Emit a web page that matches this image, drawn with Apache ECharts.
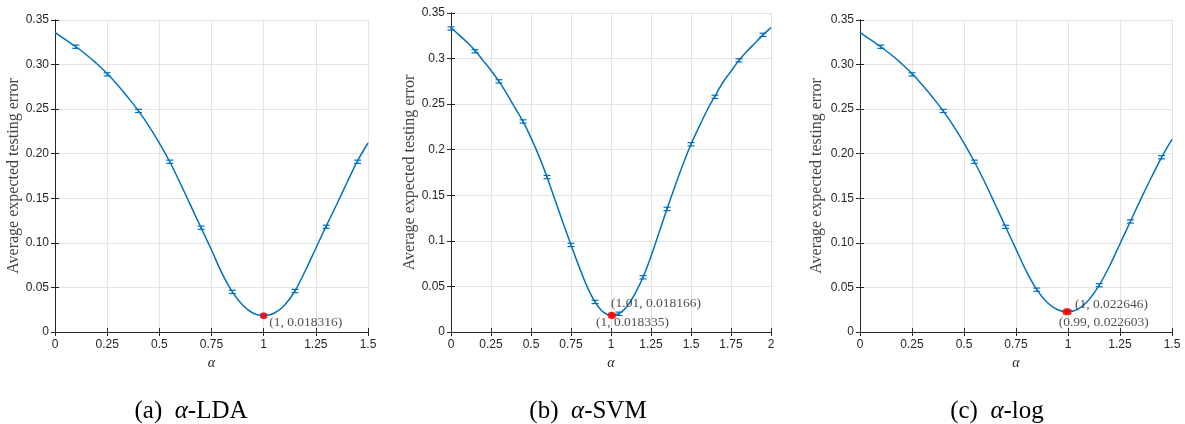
<!DOCTYPE html>
<html>
<head>
<meta charset="utf-8">
<script src="https://cdn.jsdelivr.net/npm/echarts@6/dist/echarts.min.js"></script>
<style>html,body{margin:0;padding:0;background:#fff;}#c{width:1185px;height:424px;}</style>
</head>
<body>
<div id="c"></div>
<script>
// ---------- DATA ----------
const alphaLDA = [0,0.05,0.1,0.15,0.2,0.25,0.3,0.35,0.4,0.45,0.5,0.55,0.6,0.65,0.7,0.75,0.8,0.85,0.9,0.95,1.0,1.05,1.1,1.15,1.2,1.25,1.3,1.35,1.4,1.45,1.5];
const errLDA   = [0.336,0.328,0.320,0.311,0.301,0.290,0.277,0.263,0.248,0.231,0.212,0.191,0.167,0.142,0.117,0.092,0.066,0.045,0.030,0.021,0.0183,0.021,0.030,0.046,0.069,0.094,0.119,0.143,0.168,0.192,0.212];
const ebXLDA   = [0.1,0.25,0.4,0.55,0.7,0.85,1.0,1.15,1.3,1.45];
const ebYLDA   = [0.320,0.289,0.248,0.191,0.117,0.045,0.0183,0.046,0.118,0.191];

const alphaSVM = [0,0.05,0.1,0.15,0.2,0.25,0.3,0.35,0.4,0.45,0.5,0.55,0.6,0.65,0.7,0.75,0.8,0.85,0.9,0.95,1.0,1.05,1.1,1.15,1.2,1.25,1.3,1.35,1.4,1.45,1.5,1.55,1.6,1.65,1.7,1.75,1.8,1.85,1.9,1.95,2.0];
const errSVM   = [0.334,0.326,0.318,0.309,0.298,0.287,0.275,0.261,0.246,0.231,0.213,0.193,0.170,0.145,0.120,0.0955,0.072,0.050,0.033,0.022,0.0183,0.020,0.028,0.042,0.060,0.083,0.109,0.135,0.160,0.184,0.206,0.225,0.243,0.259,0.274,0.286,0.298,0.308,0.317,0.326,0.334];
const ebXSVM   = [0,0.15,0.3,0.45,0.6,0.75,0.9,1.05,1.2,1.35,1.5,1.65,1.8,1.95];
const ebYSVM   = [0.333,0.308,0.275,0.231,0.170,0.0955,0.033,0.020,0.060,0.135,0.206,0.258,0.298,0.326];

const alphaLog = [0,0.05,0.1,0.15,0.2,0.25,0.3,0.35,0.4,0.45,0.5,0.55,0.6,0.65,0.7,0.75,0.8,0.85,0.9,0.95,1.0,1.05,1.1,1.15,1.2,1.25,1.3,1.35,1.4,1.45,1.5];
const errLog   = [0.336,0.328,0.320,0.311,0.301,0.290,0.277,0.263,0.248,0.231,0.212,0.191,0.168,0.143,0.118,0.093,0.068,0.0475,0.033,0.025,0.0226,0.026,0.036,0.0525,0.074,0.099,0.124,0.149,0.173,0.196,0.216];
const ebXLog   = [0.1,0.25,0.4,0.55,0.7,0.85,1.0,1.15,1.3,1.45];
const ebYLog   = [0.320,0.289,0.248,0.191,0.118,0.0475,0.0226,0.0525,0.124,0.196];

const ebHalf = 0.0018;

const minLDA = [[1, 0.018316]];
const minLDALabels = ['(1, 0.018316)'];
const minSVM = [[1.01, 0.018166],[1, 0.018335]];
const minSVMLabels = ['(1.01, 0.018166)','(1, 0.018335)'];
const minLog = [[1, 0.022646],[0.99, 0.022603]];
const minLogLabels = ['(1, 0.022646)','(0.99, 0.022603)'];

const yTicks2dp = ['0','0.05','0.10','0.15','0.20','0.25','0.30','0.35'];
const yTicksShort = ['0','0.05','0.1','0.15','0.2','0.25','0.3','0.35'];
const captions = ['(a)  {i|α}-LDA','(b)  {i|α}-SVM','(c)  {i|α}-log'];
const yName = 'Average expected testing error';
const xName = 'α';

// ---------- STYLE ----------
const blue = '#0072BD';
const axisCol = '#262626';
const gridCol = '#e3e3e3';
const serif = '"Liberation Serif", "DejaVu Serif", serif';
const sans = '"Liberation Sans", Arial, sans-serif';

const grids = [
  {left:55, top:20, width:313, height:312},
  {left:451, top:13, width:320, height:319},
  {left:860, top:20, width:312, height:312}
];
const xMax = [1.5, 2, 1.5];
const yLabels = [yTicks2dp, yTicksShort, yTicks2dp];
const yNameGap = [32, 33, 35];

const xAxes = [], yAxes = [];
grids.forEach((g, i) => {
  xAxes.push({
    type:'value', gridIndex:i, min:0, max:xMax[i], interval:0.25, position:'bottom',
    axisLine:{show:true, lineStyle:{color:axisCol, width:1}},
    axisTick:{show:true, inside:true, length:4, lineStyle:{color:axisCol}},
    axisLabel:{color:axisCol, fontFamily:sans, fontSize:12, margin:7},
    splitLine:{show:true, lineStyle:{color:gridCol, width:1}},
    name:xName, nameLocation:'middle', nameGap:21,
    nameTextStyle:{fontFamily:serif, fontStyle:'italic', fontSize:14, color:axisCol}
  });
  xAxes.push({
    type:'value', gridIndex:i, min:0, max:xMax[i], interval:0.25, position:'top',
    axisLine:{show:true, lineStyle:{color:axisCol, width:1}},
    axisTick:{show:true, inside:true, length:4, lineStyle:{color:axisCol}},
    axisLabel:{show:false}, splitLine:{show:false}
  });
  const labs = yLabels[i];
  yAxes.push({
    type:'value', gridIndex:i, min:0, max:0.35, interval:0.05, position:'left',
    axisLine:{show:true, lineStyle:{color:axisCol, width:1}},
    axisTick:{show:true, inside:true, length:4, lineStyle:{color:axisCol}},
    axisLabel:{color:axisCol, fontFamily:sans, fontSize:12, margin:6,
      formatter:(v)=>labs[Math.round(v/0.05)]},
    splitLine:{show:true, lineStyle:{color:gridCol, width:1}},
    name:yName, nameLocation:'middle', nameGap:yNameGap[i],
    nameTextStyle:{fontFamily:serif, fontSize:16, color:'#444'}
  });
  yAxes.push({
    type:'value', gridIndex:i, min:0, max:0.35, interval:0.05, position:'right',
    axisLine:{show:true, lineStyle:{color:axisCol, width:1}},
    axisTick:{show:true, inside:true, length:4, lineStyle:{color:axisCol}},
    axisLabel:{show:false}, splitLine:{show:false}
  });
});

function zip(a, b) { return a.map((v, k) => [v, b[k]]); }

function errRender(params, api) {
  const x = api.value(0), y = api.value(1);
  const t = api.coord([x, y + ebHalf]);
  const b = api.coord([x, y - ebHalf]);
  const w = 3.5;
  const st = {stroke: blue, lineWidth: 1.2};
  return {type:'group', children:[
    {type:'line', shape:{x1:t[0], y1:t[1], x2:b[0], y2:b[1]}, style:st},
    {type:'line', shape:{x1:t[0]-w, y1:t[1], x2:t[0]+w, y2:t[1]}, style:st},
    {type:'line', shape:{x1:b[0]-w, y1:b[1], x2:b[0]+w, y2:b[1]}, style:st}
  ]};
}

const curves = [zip(alphaLDA, errLDA), zip(alphaSVM, errSVM), zip(alphaLog, errLog)];
const bars = [zip(ebXLDA, ebYLDA), zip(ebXSVM, ebYSVM), zip(ebXLog, ebYLog)];
const mins = [minLDA, minSVM, minLog];
const minLabels = [minLDALabels, minSVMLabels, minLogLabels];
// label offsets (relative to 7x7 symbol box)
const labelPos = [
  [[9, 10]],
  [[2, -8.5], [-11.5, 11]],
  [[10.5, -4], [-3.7, 14]]
];

const series = [];
for (let i = 0; i < 3; i++) {
  series.push({
    type:'line', xAxisIndex:2*i, yAxisIndex:2*i, data:curves[i], smooth:0.35,
    showSymbol:false, lineStyle:{color:blue, width:1.5}, z:3, silent:true
  });
  series.push({
    type:'custom', xAxisIndex:2*i, yAxisIndex:2*i, data:bars[i], renderItem:errRender, z:4, silent:true
  });
  series.push({
    type:'scatter', xAxisIndex:2*i, yAxisIndex:2*i, symbolSize:7, z:6, silent:true,
    itemStyle:{color:'#ff0000'},
    data: mins[i].map((p, k) => ({
      value:p,
      label:{show:true, formatter:minLabels[i][k], position:labelPos[i][k],
        align:'left', verticalAlign:'middle',
        fontFamily:serif, fontSize:13.5, color:'#222'}
    }))
  });
}

const capX = [191, 588, 997];
const graphic = captions.map((c, i) => ({
  type:'text', x:capX[i], y:411,
  style:{text:c, fill:'#000', font:'25px ' + serif, align:'center', verticalAlign:'middle',
    rich:{i:{fontStyle:'italic', fontFamily:serif, fontSize:25, fill:'#000'}}}
}));

const chart = echarts.init(document.getElementById('c'), null, {renderer:'canvas'});
chart.setOption({
  animation:false,
  backgroundColor:'#fff',
  grid:grids,
  xAxis:xAxes,
  yAxis:yAxes,
  series:series,
  graphic:graphic
});
</script>
</body>
</html>
